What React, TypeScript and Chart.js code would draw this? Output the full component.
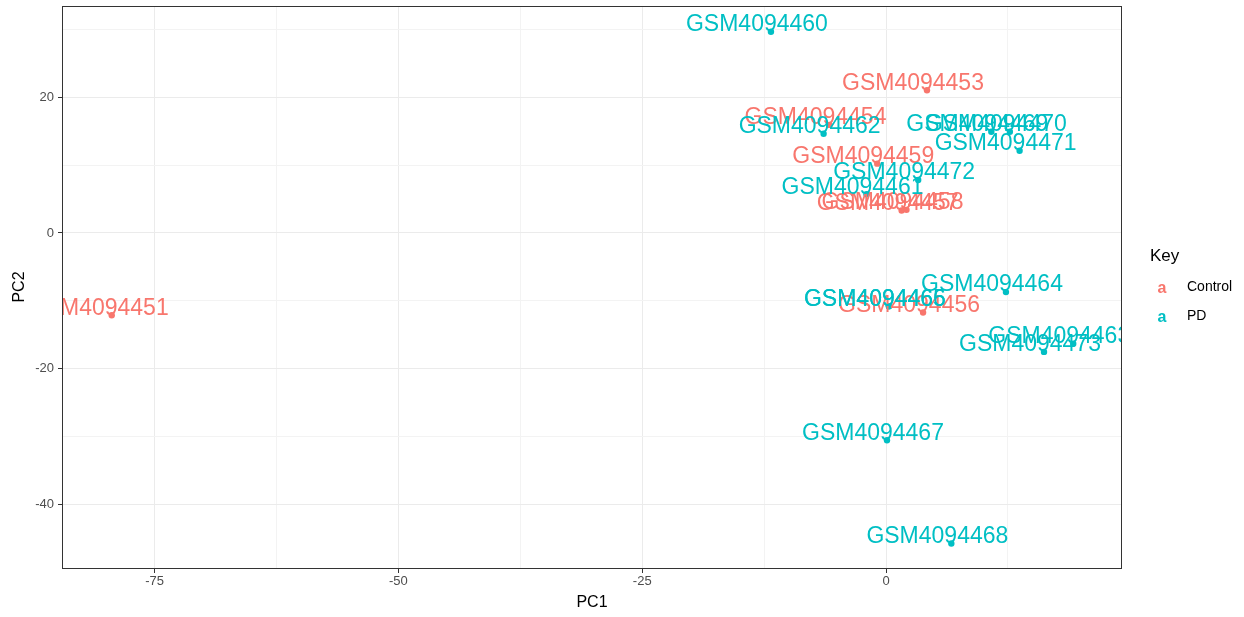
import React, { useEffect, useRef } from 'react';
import { Chart, registerables } from 'chart.js';

Chart.register(...registerables);

const controlNames = ['GSM4094451', 'GSM4094453', 'GSM4094454', 'GSM4094456', 'GSM4094457', 'GSM4094458', 'GSM4094459'];
const controlPC1 = [-79.4, 4.2, -5.8, 3.8, 1.6, 2.1, -0.9];
const controlPC2 = [-12.1, 21.0, 15.9, -11.7, 3.3, 3.4, 10.2];

const pdNames = ['GSM4094460', 'GSM4094461', 'GSM4094462', 'GSM4094463', 'GSM4094464', 'GSM4094465', 'GSM4094466', 'GSM4094467', 'GSM4094468', 'GSM4094469', 'GSM4094470', 'GSM4094471', 'GSM4094472', 'GSM4094473'];
const pdPC1 = [-11.8, -2.0, -6.4, 19.2, 12.3, 0.3, 0.3, 0.1, 6.7, 10.8, 12.7, 13.7, 3.3, 16.2];
const pdPC2 = [29.6, 5.7, 14.6, -16.3, -8.7, -10.8, -10.8, -30.5, -45.7, 14.9, 14.9, 12.1, 7.8, -17.5];

const xTickValues = [-75, -62.5, -50, -37.5, -25, -12.5, 0, 12.5];
const xTickLabels = ['-75', '', '-50', '', '-25', '', '0', ''];
const yTickValues = [-40, -30, -20, -10, 0, 10, 20, 30];
const yTickLabels = ['-40', '', '-20', '', '0', '', '20', ''];

const groupNames = ['Control', 'PD'];
const groupColors = ['#F8766D', '#00BFC4'];

const FONT = '"Liberation Sans", Arial, Helvetica, sans-serif';

const labelPlugin = {
  id: 'pointLabels',
  afterDatasetsDraw(chart: any) {
    const { ctx, chartArea } = chart;
    const items: { name: string; x: number; y: number; color: string }[] = [];
    chart.data.datasets.forEach((ds: any, i: number) => {
      const meta = chart.getDatasetMeta(i);
      meta.data.forEach((pt: any, j: number) => {
        items.push({ name: ds.names[j], x: pt.x, y: pt.y, color: ds.backgroundColor });
      });
    });
    items.sort((a, b) => (a.name < b.name ? -1 : 1));
    ctx.save();
    ctx.beginPath();
    ctx.rect(chartArea.left, chartArea.top, chartArea.right - chartArea.left, chartArea.bottom - chartArea.top);
    ctx.clip();
    ctx.font = '23px ' + FONT;
    ctx.textAlign = 'center';
    ctx.textBaseline = 'middle';
    items.forEach((it) => {
      ctx.fillStyle = it.color;
      ctx.fillText(it.name, it.x - 14, it.y - 7);
    });
    ctx.restore();
  },
  afterDraw(chart: any) {
    const { ctx, chartArea } = chart;
    ctx.save();
    ctx.strokeStyle = '#333333';
    ctx.lineWidth = 1;
    ctx.strokeRect(chartArea.left + 0.5, chartArea.top + 0.5, chartArea.right - chartArea.left - 1, chartArea.bottom - chartArea.top);
    // legend
    ctx.fillStyle = '#000000';
    ctx.textAlign = 'left';
    ctx.textBaseline = 'middle';
    ctx.font = '17px ' + FONT;
    ctx.fillText('Key', 1150, 256);
    const ys = [288, 317];
    groupNames.forEach((g, i) => {
      ctx.font = 'bold 16px ' + FONT;
      ctx.textAlign = 'center';
      ctx.fillStyle = groupColors[i];
      ctx.fillText('a', 1162, ys[i] + 1);
      ctx.font = '14px ' + FONT;
      ctx.textAlign = 'left';
      ctx.fillStyle = '#000000';
      ctx.fillText(g, 1187, ys[i] - 1);
    });
    ctx.restore();
  },
};

export default function App() {
  const canvasRef = useRef<HTMLCanvasElement | null>(null);

  useEffect(() => {
    if (!canvasRef.current) return;
    const chart = new Chart(canvasRef.current, {
      type: 'scatter',
      data: {
        datasets: [
          {
            label: groupNames[0],
            names: controlNames,
            data: controlPC1.map((x, i) => ({ x, y: controlPC2[i] })),
            backgroundColor: groupColors[0],
            borderColor: groupColors[0],
            borderWidth: 0,
            pointRadius: 3.2,
          } as any,
          {
            label: groupNames[1],
            names: pdNames,
            data: pdPC1.map((x, i) => ({ x, y: pdPC2[i] })),
            backgroundColor: groupColors[1],
            borderColor: groupColors[1],
            borderWidth: 0,
            pointRadius: 3.2,
          } as any,
        ],
      },
      options: {
        animation: false,
        responsive: true,
        maintainAspectRatio: false,
        layout: { padding: { left: 0, top: 6, right: 122, bottom: 0 } },
        plugins: {
          legend: { display: false },
          tooltip: { enabled: false },
        },
        scales: {
          x: {
            type: 'linear',
            min: -84.5,
            max: 24.2,
            afterBuildTicks: (scale: any) => {
              scale.ticks = xTickValues.map((v) => ({ value: v }));
            },
            afterFit: (scale: any) => {
              scale.height = 49;
              scale.paddingLeft = 0;
              scale.paddingRight = 0;
            },
            ticks: {
              autoSkip: false,
              maxRotation: 0,
              padding: 1,
              color: '#4D4D4D',
              font: { family: FONT, size: 13 },
              callback: (v: any) => {
                const i = xTickValues.indexOf(Number(v));
                return i >= 0 ? xTickLabels[i] : '';
              },
            },
            grid: {
              color: (c: any) => (c.tick && xTickLabels[xTickValues.indexOf(c.tick.value)] !== '' ? '#EBEBEB' : '#F3F3F3'),
              lineWidth: 1,
              tickLength: 5,
              tickColor: (c: any) => (c.tick && xTickLabels[xTickValues.indexOf(c.tick.value)] !== '' ? '#333333' : 'rgba(0,0,0,0)'),
            },
            border: { display: false },
            title: {
              display: true,
              text: 'PC1',
              color: '#000000',
              font: { family: FONT, size: 16 },
              padding: { top: 0, bottom: 5 },
            },
          },
          y: {
            type: 'linear',
            min: -49.3,
            max: 33.4,
            afterBuildTicks: (scale: any) => {
              scale.ticks = yTickValues.map((v) => ({ value: v }));
            },
            afterFit: (scale: any) => {
              scale.width = 62;
              scale.paddingTop = 0;
              scale.paddingBottom = 0;
            },
            ticks: {
              autoSkip: false,
              padding: 4,
              color: '#4D4D4D',
              font: { family: FONT, size: 13 },
              callback: (v: any) => {
                const i = yTickValues.indexOf(Number(v));
                return i >= 0 ? yTickLabels[i] : '';
              },
            },
            grid: {
              color: (c: any) => (c.tick && yTickLabels[yTickValues.indexOf(c.tick.value)] !== '' ? '#EBEBEB' : '#F3F3F3'),
              lineWidth: 1,
              tickLength: 4,
              tickColor: (c: any) => (c.tick && yTickLabels[yTickValues.indexOf(c.tick.value)] !== '' ? '#333333' : 'rgba(0,0,0,0)'),
            },
            border: { display: false },
            title: {
              display: true,
              text: 'PC2',
              color: '#000000',
              font: { family: FONT, size: 16 },
              padding: { top: 10, bottom: 0 },
            },
          },
        },
      } as any,
      plugins: [labelPlugin],
    });
    return () => chart.destroy();
  }, []);

  return (
    <div style={{ position: 'fixed', left: 0, top: 0, width: 1244, height: 617, background: '#ffffff' }}>
      <canvas ref={canvasRef} />
    </div>
  );
}
